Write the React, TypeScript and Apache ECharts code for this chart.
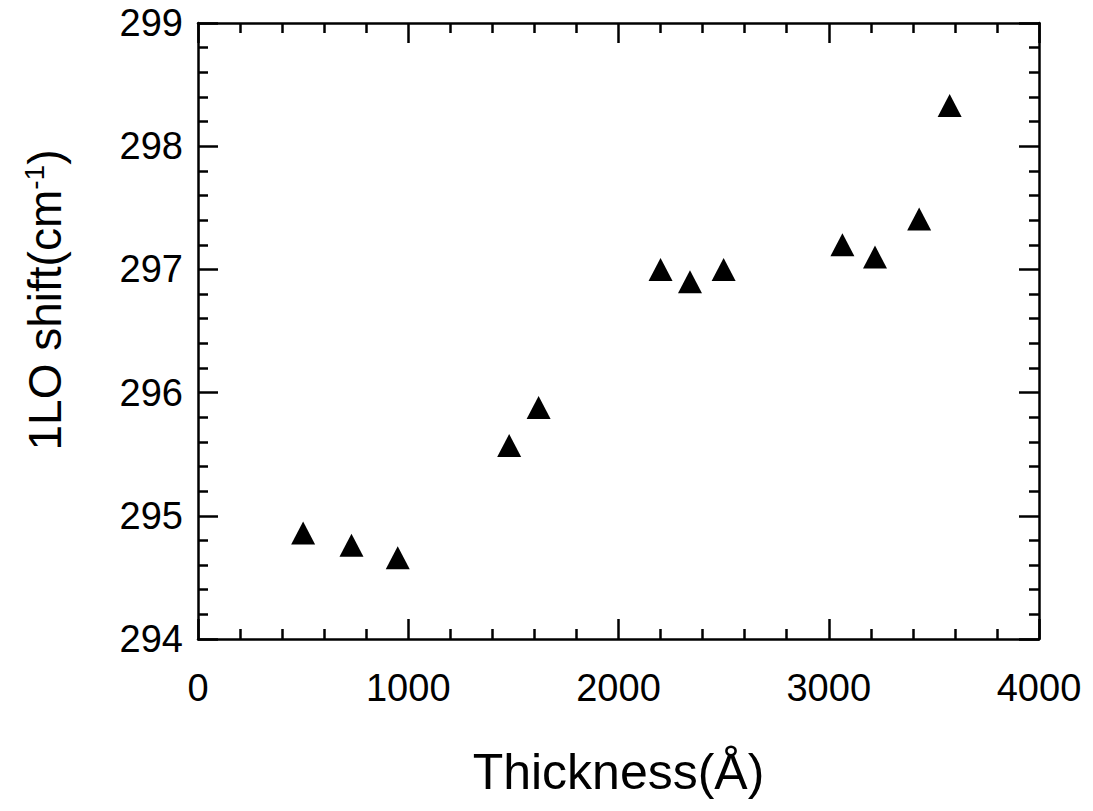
import React, { useEffect, useRef } from "react";
import * as echarts from "echarts";

const thickness = [500, 730, 950, 1480, 1620, 2200, 2340, 2500, 3065, 3220, 3430, 3575];
const shift = [294.86, 294.76, 294.66, 295.57, 295.88, 297.0, 296.9, 297.0, 297.2, 297.1, 297.41, 298.33];
const xTicks = [0, 1000, 2000, 3000, 4000];
const yTicks = [294, 295, 296, 297, 298, 299];

const FONT = "'Liberation Sans', Arial, Helvetica, sans-serif";

export default function App() {
  const ref = useRef<HTMLDivElement>(null);
  useEffect(() => {
    if (!ref.current) return;
    const chart = echarts.init(ref.current, null, { renderer: "svg" });
    const axisCommon = {
      axisLine: { show: true, onZero: false, lineStyle: { color: "#000", width: 2.5 } },
      axisTick: { show: true, inside: true, length: 20, lineStyle: { color: "#000", width: 2.5 } },
      minorTick: { show: true, splitNumber: 5, length: 10, lineStyle: { color: "#000", width: 2.5 } },
      splitLine: { show: false },
    };
    const data = thickness.map((x, i) => [x, shift[i]]);
    chart.setOption({
      animation: false,
      backgroundColor: "#fff",
      grid: { left: 198, right: 54, top: 23, bottom: 172, containLabel: false },
      graphic: [
        {
          type: "text",
          x: 45,
          y: 300,
          rotation: Math.PI / 2,
          style: {
            text: "{a|1LO shift(cm}{s|-1}{a|)}",
            align: "center",
            verticalAlign: "middle",
            fill: "#000",
            font: `46px ${FONT}`,
            rich: {
              a: { fontSize: 46, fontFamily: FONT, fill: "#000" },
              s: { fontSize: 28, fontFamily: FONT, fill: "#000", verticalAlign: "top", padding: [0, 0, 22, 0] },
            },
          },
        },
      ],
      xAxis: [
        {
          type: "value",
          min: xTicks[0],
          max: xTicks[xTicks.length - 1],
          interval: 1000,
          position: "bottom",
          ...axisCommon,
          axisLabel: { color: "#000", fontSize: 38, fontFamily: FONT, margin: 30, formatter: (v: number) => String(v) },
          name: "Thickness(Å)",
          nameLocation: "middle",
          nameGap: 108,
          nameTextStyle: { color: "#000", fontSize: 50, fontFamily: FONT },
        },
        {
          type: "value",
          min: xTicks[0],
          max: xTicks[xTicks.length - 1],
          interval: 1000,
          position: "top",
          ...axisCommon,
          axisLabel: { show: false },
        },
      ],
      yAxis: [
        {
          type: "value",
          min: yTicks[0],
          max: yTicks[yTicks.length - 1],
          interval: 1,
          position: "left",
          ...axisCommon,
          axisLabel: { color: "#000", fontSize: 38, fontFamily: FONT, margin: 15 },
        },
        {
          type: "value",
          min: yTicks[0],
          max: yTicks[yTicks.length - 1],
          interval: 1,
          position: "right",
          ...axisCommon,
          axisLabel: { show: false },
        },
      ],
      series: [
        {
          type: "scatter",
          data,
          symbol: "triangle",
          symbolSize: [24, 23],
          itemStyle: { color: "#000", opacity: 1 },
        },
      ],
    });
    return () => chart.dispose();
  }, []);
  return <div ref={ref} style={{ width: 1093, height: 811, position: "absolute", left: 0, top: 0 }} />;
}
